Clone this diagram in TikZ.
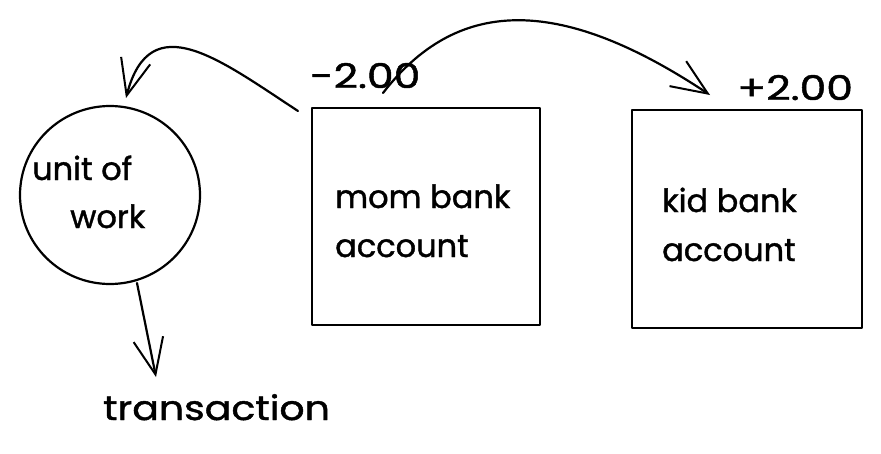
\documentclass[tikz,border=0pt]{standalone}
\usepackage{fontspec}
\setmainfont[FakeBold=1.2]{Poppins}
\usetikzlibrary{arrows.meta,shapes.geometric}
\begin{document}
\begin{tikzpicture}[x=1pt,y=-1pt,
  sk/.style={line width=2.2pt,line cap=round,line join=round},
  lbl/.style={font=\fontsize{32}{36}\selectfont,inner sep=0pt,anchor=base west},
  wide/.style={font=\fontsize{34}{38}\selectfont,inner sep=0pt,anchor=base west},
  arr/.style={sk,-{Straight Barb[length=36pt,width=30pt,line width=2pt]}}]
\useasboundingbox (0,0) rectangle (881,453);
% shapes
\node[sk,draw,ellipse,minimum width=180,minimum height=178] (uow) at (110,195) {};
\node[sk,draw,rectangle,minimum width=228,minimum height=217] (mom) at (426,216.5) {};
\node[sk,draw,rectangle,minimum width=230,minimum height=218] (kid) at (747,219) {};
% texts
\node[lbl] (t1) at (32,180) {unit of};
\node[lbl] (t2) at (70,228) {work};
\node[lbl] (t3) at (335,208) {mom bank};
\node[lbl] (t4) at (335,257) {account};
\node[lbl] (t5) at (662,212) {kid bank};
\node[lbl] (t6) at (662,261) {account};
\node[wide] (m) at (310,88) {\scalebox{1.25}[1]{-2.00}};
\node[wide] (p) at (737,100) {\scalebox{1.25}[1]{+2.00}};
\node[wide] (tr) at (103,420) {\scalebox{1.16}[1]{transaction}};
% connectors
\coordinate (a1s) at (298,111);
\coordinate (a1e) at (126,98);
\coordinate (a2s) at (383,93);
\coordinate (a2e) at (710,95);
\coordinate (a3s) at (137,283);
\coordinate (a3e) at (156,377);
\draw[arr] (a1s) .. controls (220,60) and (150,5) .. (a1e);
\draw[arr] (a2s) .. controls (455,0) and (555,-8) .. (a2e);
\draw[arr] (a3s) -- (a3e);
\end{tikzpicture}
\end{document}
